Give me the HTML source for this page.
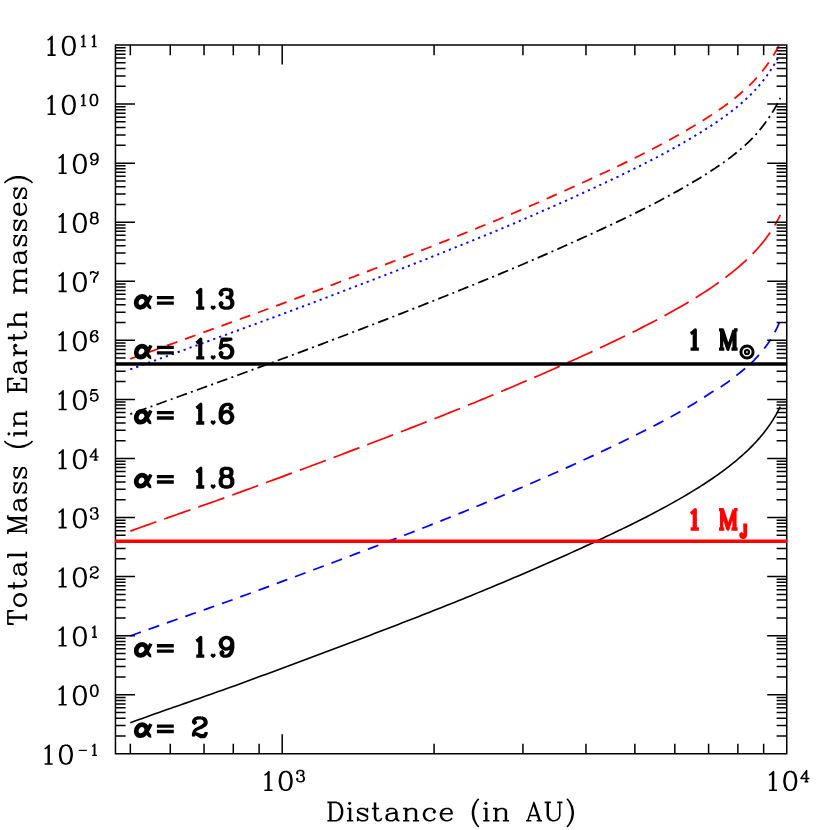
<!DOCTYPE html>
<html><head><meta charset="utf-8"><title>Total Mass vs Distance</title>
<style>html,body{margin:0;padding:0;background:#fff;font-family:"Liberation Sans",sans-serif}svg{display:block}</style></head>
<body>
<svg width="830" height="830" viewBox="0 0 830 830">
<rect width="830" height="830" fill="#fff"/>
<defs><clipPath id="c"><rect x="115.45" y="45.0" width="671.30" height="708.80"/></clipPath></defs>
<g clip-path="url(#c)">
<path d="M130.30 358.92L134.30 357.46L138.30 356.01L142.30 354.55L146.30 353.10L150.30 351.65L154.30 350.20L158.30 348.75L162.30 347.30L166.30 345.85L170.30 344.40L174.30 342.95L178.30 341.51L182.30 340.06L186.30 338.61L190.30 337.17L194.30 335.72L198.30 334.27L202.30 332.83L206.30 331.38L210.30 329.93L214.30 328.48L218.30 327.03L222.30 325.58L226.30 324.13L230.30 322.67L234.30 321.22L238.30 319.76L242.30 318.30L246.30 316.84L250.30 315.38L254.30 313.92L258.30 312.45L262.30 310.98L266.30 309.51L270.30 308.04L274.30 306.56L278.30 305.08L282.30 303.60L286.30 302.11L290.30 300.62L294.30 299.13L298.30 297.64L302.30 296.14L306.30 294.63L310.30 293.13L314.30 291.63L318.30 290.12L322.30 288.61L326.30 287.10L330.30 285.58L334.30 284.07L338.30 282.55L342.30 281.03L346.30 279.51L350.30 277.98L354.30 276.46L358.30 274.93L362.30 273.40L366.30 271.86L370.30 270.33L374.30 268.79L378.30 267.24L382.30 265.70L386.30 264.15L390.30 262.60L394.30 261.05L398.30 259.50L402.30 257.94L406.30 256.38L410.30 254.81L414.30 253.25L418.30 251.68L422.30 250.10L426.30 248.52L430.30 246.94L434.30 245.36L438.30 243.77L442.30 242.18L446.30 240.59L450.30 238.99L454.30 237.39L458.30 235.78L462.30 234.17L466.30 232.55L470.30 230.93L474.30 229.31L478.30 227.68L482.30 226.05L486.30 224.41L490.30 222.77L494.30 221.12L498.30 219.47L502.30 217.81L506.30 216.14L510.30 214.46L514.30 212.77L518.30 211.07L522.30 209.36L526.30 207.65L530.30 205.92L534.30 204.18L538.30 202.44L542.30 200.69L546.30 198.93L550.30 197.16L554.30 195.39L558.30 193.61L562.30 191.82L566.30 190.02L570.30 188.22L574.30 186.41L578.30 184.59L582.30 182.77L586.30 180.94L590.30 179.11L594.30 177.26L598.30 175.42L602.30 173.56L606.30 171.69L610.30 169.82L614.30 167.92L618.30 166.02L622.30 164.10L626.30 162.16L630.30 160.21L634.30 158.24L638.30 156.25L642.30 154.24L646.30 152.21L650.30 150.16L654.30 148.09L658.30 145.99L662.30 143.87L666.30 141.72L670.30 139.54L674.30 137.33L678.30 135.08L682.30 132.80L686.30 130.48L690.30 128.12L694.30 125.72L698.30 123.29L700.00 122.25L701.50 121.32L703.00 120.39L704.50 119.45L706.00 118.50L707.50 117.55L709.00 116.58L710.50 115.61L712.00 114.63L713.50 113.64L715.00 112.64L716.50 111.63L718.00 110.61L719.50 109.58L721.00 108.53L722.50 107.48L724.00 106.41L725.50 105.32L727.00 104.22L728.50 103.10L730.00 101.97L731.50 100.82L733.00 99.66L734.50 98.47L736.00 97.26L737.50 96.04L739.00 94.79L740.50 93.51L742.00 92.21L743.50 90.89L745.00 89.54L746.50 88.16L748.00 86.75L749.50 85.31L751.00 83.83L752.50 82.31L754.00 80.74L755.50 79.13L757.00 77.47L758.50 75.76L760.00 74.00L760.50 73.40L761.00 72.79L761.50 72.18L762.00 71.56L762.50 70.94L763.00 70.31L763.50 69.67L764.00 69.03L764.50 68.38L765.00 67.72L765.50 67.06L766.00 66.39L766.50 65.71L767.00 65.02L767.50 64.32L768.00 63.62L768.50 62.91L769.00 62.19L769.50 61.46L770.00 60.72L770.50 59.97L771.00 59.21L771.50 58.44L772.00 57.66L772.50 56.87L773.00 56.07L773.50 55.26L774.00 54.44L774.50 53.60L775.00 52.75L775.50 51.89L776.00 51.01L776.50 50.12L777.00 49.21L777.50 48.29L778.00 47.35L778.50 46.39L779.00 45.42L779.50 44.42L780.00 43.41L780.30 42.79" fill="none" stroke="#f00" stroke-width="1.75" stroke-dasharray="11.2 8.2"/>
<path d="M130.30 369.42L134.30 367.96L138.30 366.51L142.30 365.05L146.30 363.60L150.30 362.15L154.30 360.70L158.30 359.25L162.30 357.80L166.30 356.35L170.30 354.90L174.30 353.45L178.30 352.01L182.30 350.56L186.30 349.11L190.30 347.67L194.30 346.22L198.30 344.77L202.30 343.33L206.30 341.88L210.30 340.43L214.30 338.98L218.30 337.53L222.30 336.08L226.30 334.63L230.30 333.17L234.30 331.72L238.30 330.26L242.30 328.80L246.30 327.34L250.30 325.88L254.30 324.42L258.30 322.95L262.30 321.48L266.30 320.01L270.30 318.54L274.30 317.06L278.30 315.58L282.30 314.10L286.30 312.61L290.30 311.12L294.30 309.63L298.30 308.14L302.30 306.64L306.30 305.13L310.30 303.63L314.30 302.13L318.30 300.62L322.30 299.11L326.30 297.60L330.30 296.08L334.30 294.57L338.30 293.05L342.30 291.53L346.30 290.01L350.30 288.48L354.30 286.96L358.30 285.43L362.30 283.90L366.30 282.36L370.30 280.83L374.30 279.29L378.30 277.74L382.30 276.20L386.30 274.65L390.30 273.10L394.30 271.55L398.30 270.00L402.30 268.44L406.30 266.88L410.30 265.31L414.30 263.75L418.30 262.18L422.30 260.60L426.30 259.02L430.30 257.44L434.30 255.86L438.30 254.27L442.30 252.68L446.30 251.09L450.30 249.49L454.30 247.89L458.30 246.28L462.30 244.67L466.30 243.05L470.30 241.43L474.30 239.81L478.30 238.18L482.30 236.55L486.30 234.91L490.30 233.27L494.30 231.62L498.30 229.97L502.30 228.31L506.30 226.64L510.30 224.96L514.30 223.27L518.30 221.57L522.30 219.86L526.30 218.15L530.30 216.42L534.30 214.68L538.30 212.94L542.30 211.19L546.30 209.43L550.30 207.66L554.30 205.89L558.30 204.11L562.30 202.32L566.30 200.52L570.30 198.72L574.30 196.91L578.30 195.09L582.30 193.27L586.30 191.44L590.30 189.61L594.30 187.76L598.30 185.92L602.30 184.06L606.30 182.19L610.30 180.32L614.30 178.42L618.30 176.52L622.30 174.60L626.30 172.66L630.30 170.71L634.30 168.74L638.30 166.75L642.30 164.74L646.30 162.71L650.30 160.66L654.30 158.59L658.30 156.49L662.30 154.37L666.30 152.22L670.30 150.04L674.30 147.83L678.30 145.58L682.30 143.30L686.30 140.98L690.30 138.62L694.30 136.22L698.30 133.79L700.00 132.75L701.50 131.82L703.00 130.89L704.50 129.95L706.00 129.00L707.50 128.05L709.00 127.08L710.50 126.11L712.00 125.13L713.50 124.14L715.00 123.14L716.50 122.13L718.00 121.11L719.50 120.08L721.00 119.03L722.50 117.98L724.00 116.91L725.50 115.82L727.00 114.72L728.50 113.60L730.00 112.47L731.50 111.32L733.00 110.16L734.50 108.97L736.00 107.76L737.50 106.54L739.00 105.29L740.50 104.01L742.00 102.71L743.50 101.39L745.00 100.04L746.50 98.66L748.00 97.25L749.50 95.81L751.00 94.33L752.50 92.81L754.00 91.24L755.50 89.63L757.00 87.97L758.50 86.26L760.00 84.50L760.50 83.90L761.00 83.29L761.50 82.68L762.00 82.06L762.50 81.44L763.00 80.81L763.50 80.17L764.00 79.53L764.50 78.88L765.00 78.22L765.50 77.56L766.00 76.89L766.50 76.21L767.00 75.52L767.50 74.82L768.00 74.12L768.50 73.41L769.00 72.69L769.50 71.96L770.00 71.22L770.50 70.47L771.00 69.71L771.50 68.94L772.00 68.16L772.50 67.37L773.00 66.57L773.50 65.76L774.00 64.94L774.50 64.10L775.00 63.25L775.50 62.39L776.00 61.51L776.50 60.62L777.00 59.71L777.50 58.79L778.00 57.85L778.50 56.89L779.00 55.92L779.50 54.92L780.00 53.91L780.30 53.29" fill="none" stroke="#00f" stroke-width="1.9" stroke-dasharray="2.2 4.1"/>
<path d="M130.30 414.12L134.30 412.66L138.30 411.21L142.30 409.75L146.30 408.30L150.30 406.85L154.30 405.40L158.30 403.95L162.30 402.50L166.30 401.05L170.30 399.60L174.30 398.15L178.30 396.71L182.30 395.26L186.30 393.81L190.30 392.37L194.30 390.92L198.30 389.47L202.30 388.03L206.30 386.58L210.30 385.13L214.30 383.68L218.30 382.23L222.30 380.78L226.30 379.33L230.30 377.87L234.30 376.42L238.30 374.96L242.30 373.50L246.30 372.04L250.30 370.58L254.30 369.12L258.30 367.65L262.30 366.18L266.30 364.71L270.30 363.24L274.30 361.76L278.30 360.28L282.30 358.80L286.30 357.31L290.30 355.82L294.30 354.33L298.30 352.84L302.30 351.34L306.30 349.83L310.30 348.33L314.30 346.82L318.30 345.32L322.30 343.81L326.30 342.29L330.30 340.78L334.30 339.26L338.30 337.74L342.30 336.22L346.30 334.70L350.30 333.17L354.30 331.64L358.30 330.11L362.30 328.58L366.30 327.04L370.30 325.50L374.30 323.96L378.30 322.42L382.30 320.87L386.30 319.32L390.30 317.77L394.30 316.21L398.30 314.65L402.30 313.09L406.30 311.53L410.30 309.96L414.30 308.39L418.30 306.82L422.30 305.24L426.30 303.66L430.30 302.08L434.30 300.49L438.30 298.90L442.30 297.31L446.30 295.71L450.30 294.11L454.30 292.51L458.30 290.90L462.30 289.28L466.30 287.67L470.30 286.05L474.30 284.42L478.30 282.79L482.30 281.16L486.30 279.52L490.30 277.87L494.30 276.22L498.30 274.57L502.30 272.91L506.30 271.24L510.30 269.57L514.30 267.88L518.30 266.19L522.30 264.49L526.30 262.78L530.30 261.06L534.30 259.34L538.30 257.60L542.30 255.86L546.30 254.12L550.30 252.36L554.30 250.60L558.30 248.83L562.30 247.05L566.30 245.27L570.30 243.47L574.30 241.67L578.30 239.87L582.30 238.05L586.30 236.23L590.30 234.40L594.30 232.56L598.30 230.72L602.30 228.86L606.30 227.00L610.30 225.12L614.30 223.24L618.30 221.34L622.30 219.42L626.30 217.50L630.30 215.56L634.30 213.60L638.30 211.62L642.30 209.63L646.30 207.62L650.30 205.58L654.30 203.53L658.30 201.45L662.30 199.34L666.30 197.21L670.30 195.05L674.30 192.85L678.30 190.63L682.30 188.36L686.30 186.06L690.30 183.72L694.30 181.34L698.30 178.93L700.00 177.89L701.50 176.97L703.00 176.05L704.50 175.11L706.00 174.17L707.50 173.23L709.00 172.27L710.50 171.31L712.00 170.33L713.50 169.35L715.00 168.36L716.50 167.35L718.00 166.34L719.50 165.31L721.00 164.27L722.50 163.22L724.00 162.15L725.50 161.07L727.00 159.98L728.50 158.87L730.00 157.74L731.50 156.60L733.00 155.43L734.50 154.25L736.00 153.05L737.50 151.82L739.00 150.58L740.50 149.30L742.00 148.01L743.50 146.69L745.00 145.34L746.50 143.96L748.00 142.55L749.50 141.11L751.00 139.63L752.50 138.10L754.00 136.51L755.50 134.88L757.00 133.19L758.50 131.44L760.00 129.64L760.50 129.03L761.00 128.41L761.50 127.79L762.00 127.16L762.50 126.52L763.00 125.87L763.50 125.22L764.00 124.56L764.50 123.90L765.00 123.23L765.50 122.55L766.00 121.86L766.50 121.17L767.00 120.46L767.50 119.75L768.00 119.03L768.50 118.31L769.00 117.57L769.50 116.83L770.00 116.08L770.50 115.32L771.00 114.54L771.50 113.76L772.00 112.97L772.50 112.17L773.00 111.36L773.50 110.54L774.00 109.70L774.50 108.86L775.00 108.00L775.50 107.13L776.00 106.24L776.50 105.35L777.00 104.43L777.50 103.50L778.00 102.56L778.50 101.60L779.00 100.62L779.50 99.63L780.00 98.61L780.30 97.99" fill="none" stroke="#000" stroke-width="1.75" stroke-dasharray="2 4.3 10.9 4.3"/>
<path d="M130.30 531.12L134.30 529.67L138.30 528.22L142.30 526.78L146.30 525.35L150.30 523.93L154.30 522.51L158.30 521.09L162.30 519.68L166.30 518.27L170.30 516.87L174.30 515.47L178.30 514.07L182.30 512.67L186.30 511.27L190.30 509.87L194.30 508.47L198.30 507.07L202.30 505.67L206.30 504.26L210.30 502.85L214.30 501.44L218.30 500.02L222.30 498.60L226.30 497.17L230.30 495.73L234.30 494.29L238.30 492.84L242.30 491.38L246.30 489.91L250.30 488.44L254.30 486.97L258.30 485.50L262.30 484.02L266.30 482.55L270.30 481.07L274.30 479.59L278.30 478.11L282.30 476.62L286.30 475.14L290.30 473.65L294.30 472.17L298.30 470.68L302.30 469.19L306.30 467.70L310.30 466.20L314.30 464.71L318.30 463.21L322.30 461.71L326.30 460.21L330.30 458.70L334.30 457.20L338.30 455.69L342.30 454.18L346.30 452.67L350.30 451.15L354.30 449.64L358.30 448.12L362.30 446.60L366.30 445.08L370.30 443.55L374.30 442.02L378.30 440.49L382.30 438.96L386.30 437.42L390.30 435.88L394.30 434.34L398.30 432.80L402.30 431.25L406.30 429.70L410.30 428.15L414.30 426.59L418.30 425.03L422.30 423.47L426.30 421.90L430.30 420.33L434.30 418.76L438.30 417.17L442.30 415.59L446.30 413.99L450.30 412.40L454.30 410.79L458.30 409.18L462.30 407.56L466.30 405.94L470.30 404.31L474.30 402.68L478.30 401.03L482.30 399.39L486.30 397.74L490.30 396.08L494.30 394.41L498.30 392.74L502.30 391.06L506.30 389.38L510.30 387.69L514.30 385.99L518.30 384.29L522.30 382.58L526.30 380.87L530.30 379.14L534.30 377.41L538.30 375.68L542.30 373.94L546.30 372.19L550.30 370.43L554.30 368.66L558.30 366.89L562.30 365.11L566.30 363.32L570.30 361.53L574.30 359.72L578.30 357.91L582.30 356.09L586.30 354.25L590.30 352.41L594.30 350.56L598.30 348.70L602.30 346.82L606.30 344.94L610.30 343.04L614.30 341.14L618.30 339.21L622.30 337.28L626.30 335.33L630.30 333.37L634.30 331.39L638.30 329.39L642.30 327.37L646.30 325.32L650.30 323.26L654.30 321.17L658.30 319.06L662.30 316.91L666.30 314.74L670.30 312.54L674.30 310.31L678.30 308.05L682.30 305.74L686.30 303.40L690.30 301.01L694.30 298.58L698.30 296.10L700.00 295.03L701.50 294.08L703.00 293.12L704.50 292.15L706.00 291.17L707.50 290.18L709.00 289.18L710.50 288.18L712.00 287.16L713.50 286.13L715.00 285.09L716.50 284.04L718.00 282.98L719.50 281.91L721.00 280.82L722.50 279.72L724.00 278.61L725.50 277.49L727.00 276.34L728.50 275.19L730.00 274.02L731.50 272.83L733.00 271.63L734.50 270.41L736.00 269.17L737.50 267.91L739.00 266.63L740.50 265.33L742.00 264.01L743.50 262.66L745.00 261.29L746.50 259.89L748.00 258.47L749.50 257.01L751.00 255.53L752.50 254.00L754.00 252.45L755.50 250.85L757.00 249.21L758.50 247.53L760.00 245.80L760.50 245.21L761.00 244.62L761.50 244.02L762.00 243.41L762.50 242.80L763.00 242.18L763.50 241.56L764.00 240.93L764.50 240.29L765.00 239.65L765.50 238.99L766.00 238.34L766.50 237.67L767.00 236.99L767.50 236.31L768.00 235.62L768.50 234.92L769.00 234.21L769.50 233.50L770.00 232.77L770.50 232.03L771.00 231.29L771.50 230.53L772.00 229.76L772.50 228.98L773.00 228.19L773.50 227.39L774.00 226.57L774.50 225.75L775.00 224.91L775.50 224.05L776.00 223.18L776.50 222.30L777.00 221.39L777.50 220.48L778.00 219.54L778.50 218.59L779.00 217.62L779.50 216.62L780.00 215.61L780.30 214.99" fill="none" stroke="#f00" stroke-width="1.7" stroke-dasharray="27.7 8.33"/>
<path d="M130.30 635.92L134.30 634.47L138.30 633.02L142.30 631.58L146.30 630.15L150.30 628.73L154.30 627.31L158.30 625.89L162.30 624.48L166.30 623.07L170.30 621.67L174.30 620.27L178.30 618.87L182.30 617.47L186.30 616.07L190.30 614.67L194.30 613.27L198.30 611.87L202.30 610.47L206.30 609.06L210.30 607.65L214.30 606.24L218.30 604.82L222.30 603.40L226.30 601.97L230.30 600.53L234.30 599.09L238.30 597.64L242.30 596.18L246.30 594.71L250.30 593.24L254.30 591.77L258.30 590.30L262.30 588.82L266.30 587.35L270.30 585.87L274.30 584.39L278.30 582.91L282.30 581.42L286.30 579.94L290.30 578.45L294.30 576.97L298.30 575.48L302.30 573.99L306.30 572.50L310.30 571.00L314.30 569.51L318.30 568.01L322.30 566.51L326.30 565.01L330.30 563.50L334.30 562.00L338.30 560.49L342.30 558.98L346.30 557.47L350.30 555.95L354.30 554.44L358.30 552.92L362.30 551.40L366.30 549.88L370.30 548.35L374.30 546.82L378.30 545.29L382.30 543.76L386.30 542.22L390.30 540.68L394.30 539.14L398.30 537.60L402.30 536.05L406.30 534.50L410.30 532.95L414.30 531.39L418.30 529.83L422.30 528.27L426.30 526.70L430.30 525.13L434.30 523.55L438.30 521.97L442.30 520.38L446.30 518.78L450.30 517.18L454.30 515.57L458.30 513.95L462.30 512.32L466.30 510.69L470.30 509.05L474.30 507.41L478.30 505.75L482.30 504.10L486.30 502.43L490.30 500.76L494.30 499.09L498.30 497.40L502.30 495.71L506.30 494.02L510.30 492.32L514.30 490.61L518.30 488.90L522.30 487.18L526.30 485.46L530.30 483.73L534.30 481.99L538.30 480.25L542.30 478.50L546.30 476.75L550.30 474.99L554.30 473.22L558.30 471.45L562.30 469.67L566.30 467.88L570.30 466.08L574.30 464.27L578.30 462.45L582.30 460.61L586.30 458.77L590.30 456.91L594.30 455.05L598.30 453.17L602.30 451.28L606.30 449.39L610.30 447.48L614.30 445.56L618.30 443.63L622.30 441.69L626.30 439.73L630.30 437.77L634.30 435.79L638.30 433.80L642.30 431.80L646.30 429.79L650.30 427.75L654.30 425.70L658.30 423.62L662.30 421.52L666.30 419.38L670.30 417.22L674.30 415.02L678.30 412.79L682.30 410.51L686.30 408.18L690.30 405.81L694.30 403.38L698.30 400.90L700.00 399.83L701.50 398.88L703.00 397.92L704.50 396.95L706.00 395.97L707.50 394.99L709.00 393.99L710.50 393.02L712.00 392.08L713.50 391.18L715.00 390.29L716.50 389.42L718.00 388.54L719.50 387.65L721.00 386.74L722.50 385.80L724.00 384.81L725.50 383.77L727.00 382.70L728.50 381.61L730.00 380.49L731.50 379.36L733.00 378.20L734.50 377.03L736.00 375.84L737.50 374.64L739.00 373.42L740.50 372.20L742.00 370.97L743.50 369.73L745.00 368.49L746.50 367.22L748.00 365.92L749.50 364.59L751.00 363.21L752.50 361.77L754.00 360.27L755.50 358.70L757.00 357.07L758.50 355.40L760.00 353.68L760.50 353.10L761.00 352.51L761.50 351.91L762.00 351.31L762.50 350.70L763.00 350.08L763.50 349.46L764.00 348.83L764.50 348.19L765.00 347.55L765.50 346.89L766.00 346.23L766.50 345.57L767.00 344.89L767.50 344.20L768.00 343.49L768.50 342.77L769.00 342.03L769.50 341.27L770.00 340.49L770.50 339.70L771.00 338.89L771.50 338.06L772.00 337.22L772.50 336.36L773.00 335.49L773.50 334.59L774.00 333.69L774.50 332.76L775.00 331.82L775.50 330.86L776.00 329.89L776.50 328.90L777.00 327.89L777.50 326.82L778.00 325.69L778.50 324.51L779.00 323.32L779.50 322.15L780.00 321.03L780.30 320.39" fill="none" stroke="#00f" stroke-width="1.75" stroke-dasharray="11.25 8.2"/>
<path d="M130.30 722.72L134.30 721.27L138.30 719.82L142.30 718.38L146.30 716.95L150.30 715.53L154.30 714.11L158.30 712.69L162.30 711.28L166.30 709.87L170.30 708.47L174.30 707.07L178.30 705.67L182.30 704.27L186.30 702.87L190.30 701.47L194.30 700.07L198.30 698.67L202.30 697.27L206.30 695.86L210.30 694.45L214.30 693.04L218.30 691.62L222.30 690.20L226.30 688.77L230.30 687.33L234.30 685.89L238.30 684.44L242.30 682.98L246.30 681.51L250.30 680.04L254.30 678.57L258.30 677.10L262.30 675.62L266.30 674.15L270.30 672.67L274.30 671.19L278.30 669.71L282.30 668.22L286.30 666.74L290.30 665.25L294.30 663.77L298.30 662.28L302.30 660.79L306.30 659.30L310.30 657.80L314.30 656.31L318.30 654.81L322.30 653.31L326.30 651.81L330.30 650.30L334.30 648.80L338.30 647.29L342.30 645.78L346.30 644.27L350.30 642.75L354.30 641.24L358.30 639.72L362.30 638.20L366.30 636.68L370.30 635.15L374.30 633.62L378.30 632.09L382.30 630.56L386.30 629.02L390.30 627.48L394.30 625.94L398.30 624.40L402.30 622.85L406.30 621.30L410.30 619.75L414.30 618.19L418.30 616.63L422.30 615.07L426.30 613.50L430.30 611.93L434.30 610.36L438.30 608.77L442.30 607.19L446.30 605.59L450.30 604.00L454.30 602.39L458.30 600.78L462.30 599.16L466.30 597.54L470.30 595.91L474.30 594.28L478.30 592.63L482.30 590.99L486.30 589.34L490.30 587.68L494.30 586.01L498.30 584.34L502.30 582.66L506.30 580.98L510.30 579.29L514.30 577.59L518.30 575.89L522.30 574.18L526.30 572.47L530.30 570.74L534.30 569.01L538.30 567.28L542.30 565.54L546.30 563.79L550.30 562.03L554.30 560.26L558.30 558.49L562.30 556.71L566.30 554.92L570.30 553.13L574.30 551.32L578.30 549.51L582.30 547.69L586.30 545.85L590.30 544.01L594.30 542.16L598.30 540.30L602.30 538.42L606.30 536.54L610.30 534.64L614.30 532.74L618.30 530.81L622.30 528.88L626.30 526.93L630.30 524.97L634.30 522.99L638.30 520.99L642.30 518.97L646.30 516.92L650.30 514.86L654.30 512.77L658.30 510.66L662.30 508.51L666.30 506.34L670.30 504.14L674.30 501.91L678.30 499.65L682.30 497.34L686.30 495.00L690.30 492.61L694.30 490.18L698.30 487.70L700.00 486.63L701.50 485.68L703.00 484.72L704.50 483.75L706.00 482.77L707.50 481.78L709.00 480.78L710.50 479.78L712.00 478.76L713.50 477.73L715.00 476.69L716.50 475.64L718.00 474.58L719.50 473.51L721.00 472.42L722.50 471.32L724.00 470.21L725.50 469.09L727.00 467.94L728.50 466.79L730.00 465.62L731.50 464.43L733.00 463.23L734.50 462.01L736.00 460.77L737.50 459.51L739.00 458.23L740.50 456.93L742.00 455.61L743.50 454.26L745.00 452.89L746.50 451.49L748.00 450.07L749.50 448.61L751.00 447.13L752.50 445.60L754.00 444.05L755.50 442.45L757.00 440.81L758.50 439.13L760.00 437.40L760.50 436.81L761.00 436.22L761.50 435.62L762.00 435.01L762.50 434.40L763.00 433.78L763.50 433.16L764.00 432.53L764.50 431.89L765.00 431.25L765.50 430.59L766.00 429.94L766.50 429.27L767.00 428.59L767.50 427.91L768.00 427.22L768.50 426.52L769.00 425.81L769.50 425.10L770.00 424.37L770.50 423.63L771.00 422.89L771.50 422.13L772.00 421.36L772.50 420.58L773.00 419.79L773.50 418.99L774.00 418.17L774.50 417.35L775.00 416.51L775.50 415.65L776.00 414.78L776.50 413.90L777.00 412.99L777.50 412.08L778.00 411.14L778.50 410.19L779.00 409.22L779.50 408.22L780.00 407.21L780.30 406.59" fill="none" stroke="#000" stroke-width="1.6"/>
</g>
<path d="M115.45 45.0H786.75V753.8H115.45ZM115.45 736.02h9.4M786.75 736.02h-9.4M115.45 725.62h9.4M786.75 725.62h-9.4M115.45 718.24h9.4M786.75 718.24h-9.4M115.45 712.51h9.4M786.75 712.51h-9.4M115.45 707.84h9.4M786.75 707.84h-9.4M115.45 703.88h9.4M786.75 703.88h-9.4M115.45 700.46h9.4M786.75 700.46h-9.4M115.45 697.44h9.4M786.75 697.44h-9.4M115.45 694.73h18.8M786.75 694.73h-18.8M115.45 676.95h9.4M786.75 676.95h-9.4M115.45 666.55h9.4M786.75 666.55h-9.4M115.45 659.17h9.4M786.75 659.17h-9.4M115.45 653.45h9.4M786.75 653.45h-9.4M115.45 648.77h9.4M786.75 648.77h-9.4M115.45 644.82h9.4M786.75 644.82h-9.4M115.45 641.39h9.4M786.75 641.39h-9.4M115.45 638.37h9.4M786.75 638.37h-9.4M115.45 635.67h18.8M786.75 635.67h-18.8M115.45 617.89h9.4M786.75 617.89h-9.4M115.45 607.48h9.4M786.75 607.48h-9.4M115.45 600.10h9.4M786.75 600.10h-9.4M115.45 594.38h9.4M786.75 594.38h-9.4M115.45 589.70h9.4M786.75 589.70h-9.4M115.45 585.75h9.4M786.75 585.75h-9.4M115.45 582.32h9.4M786.75 582.32h-9.4M115.45 579.30h9.4M786.75 579.30h-9.4M115.45 576.60h18.8M786.75 576.60h-18.8M115.45 558.82h9.4M786.75 558.82h-9.4M115.45 548.42h9.4M786.75 548.42h-9.4M115.45 541.04h9.4M786.75 541.04h-9.4M115.45 535.31h9.4M786.75 535.31h-9.4M115.45 530.64h9.4M786.75 530.64h-9.4M115.45 526.68h9.4M786.75 526.68h-9.4M115.45 523.26h9.4M786.75 523.26h-9.4M115.45 520.24h9.4M786.75 520.24h-9.4M115.45 517.53h18.8M786.75 517.53h-18.8M115.45 499.75h9.4M786.75 499.75h-9.4M115.45 489.35h9.4M786.75 489.35h-9.4M115.45 481.97h9.4M786.75 481.97h-9.4M115.45 476.25h9.4M786.75 476.25h-9.4M115.45 471.57h9.4M786.75 471.57h-9.4M115.45 467.62h9.4M786.75 467.62h-9.4M115.45 464.19h9.4M786.75 464.19h-9.4M115.45 461.17h9.4M786.75 461.17h-9.4M115.45 458.47h18.8M786.75 458.47h-18.8M115.45 440.69h9.4M786.75 440.69h-9.4M115.45 430.28h9.4M786.75 430.28h-9.4M115.45 422.90h9.4M786.75 422.90h-9.4M115.45 417.18h9.4M786.75 417.18h-9.4M115.45 412.50h9.4M786.75 412.50h-9.4M115.45 408.55h9.4M786.75 408.55h-9.4M115.45 405.12h9.4M786.75 405.12h-9.4M115.45 402.10h9.4M786.75 402.10h-9.4M115.45 399.40h18.8M786.75 399.40h-18.8M115.45 381.62h9.4M786.75 381.62h-9.4M115.45 371.22h9.4M786.75 371.22h-9.4M115.45 363.84h9.4M786.75 363.84h-9.4M115.45 358.11h9.4M786.75 358.11h-9.4M115.45 353.44h9.4M786.75 353.44h-9.4M115.45 349.48h9.4M786.75 349.48h-9.4M115.45 346.06h9.4M786.75 346.06h-9.4M115.45 343.04h9.4M786.75 343.04h-9.4M115.45 340.33h18.8M786.75 340.33h-18.8M115.45 322.55h9.4M786.75 322.55h-9.4M115.45 312.15h9.4M786.75 312.15h-9.4M115.45 304.77h9.4M786.75 304.77h-9.4M115.45 299.05h9.4M786.75 299.05h-9.4M115.45 294.37h9.4M786.75 294.37h-9.4M115.45 290.42h9.4M786.75 290.42h-9.4M115.45 286.99h9.4M786.75 286.99h-9.4M115.45 283.97h9.4M786.75 283.97h-9.4M115.45 281.27h18.8M786.75 281.27h-18.8M115.45 263.49h9.4M786.75 263.49h-9.4M115.45 253.08h9.4M786.75 253.08h-9.4M115.45 245.70h9.4M786.75 245.70h-9.4M115.45 239.98h9.4M786.75 239.98h-9.4M115.45 235.30h9.4M786.75 235.30h-9.4M115.45 231.35h9.4M786.75 231.35h-9.4M115.45 227.92h9.4M786.75 227.92h-9.4M115.45 224.90h9.4M786.75 224.90h-9.4M115.45 222.20h18.8M786.75 222.20h-18.8M115.45 204.42h9.4M786.75 204.42h-9.4M115.45 194.02h9.4M786.75 194.02h-9.4M115.45 186.64h9.4M786.75 186.64h-9.4M115.45 180.91h9.4M786.75 180.91h-9.4M115.45 176.24h9.4M786.75 176.24h-9.4M115.45 172.28h9.4M786.75 172.28h-9.4M115.45 168.86h9.4M786.75 168.86h-9.4M115.45 165.84h9.4M786.75 165.84h-9.4M115.45 163.13h18.8M786.75 163.13h-18.8M115.45 145.35h9.4M786.75 145.35h-9.4M115.45 134.95h9.4M786.75 134.95h-9.4M115.45 127.57h9.4M786.75 127.57h-9.4M115.45 121.85h9.4M786.75 121.85h-9.4M115.45 117.17h9.4M786.75 117.17h-9.4M115.45 113.22h9.4M786.75 113.22h-9.4M115.45 109.79h9.4M786.75 109.79h-9.4M115.45 106.77h9.4M786.75 106.77h-9.4M115.45 104.07h18.8M786.75 104.07h-18.8M115.45 86.29h9.4M786.75 86.29h-9.4M115.45 75.88h9.4M786.75 75.88h-9.4M115.45 68.50h9.4M786.75 68.50h-9.4M115.45 62.78h9.4M786.75 62.78h-9.4M115.45 58.10h9.4M786.75 58.10h-9.4M115.45 54.15h9.4M786.75 54.15h-9.4M115.45 50.72h9.4M786.75 50.72h-9.4M115.45 47.70h9.4M786.75 47.70h-9.4M130.32 45.0v9.4M130.32 753.8v-9.4M170.27 45.0v9.4M170.27 753.8v-9.4M204.04 45.0v9.4M204.04 753.8v-9.4M233.30 45.0v9.4M233.30 753.8v-9.4M259.11 45.0v9.4M259.11 753.8v-9.4M434.08 45.0v9.4M434.08 753.8v-9.4M522.93 45.0v9.4M522.93 753.8v-9.4M585.97 45.0v9.4M585.97 753.8v-9.4M634.87 45.0v9.4M634.87 753.8v-9.4M674.82 45.0v9.4M674.82 753.8v-9.4M708.59 45.0v9.4M708.59 753.8v-9.4M737.85 45.0v9.4M737.85 753.8v-9.4M763.66 45.0v9.4M763.66 753.8v-9.4M282.2 45.0v18.8M282.2 753.8v-18.8" fill="none" stroke="#000" stroke-width="1.5" stroke-linecap="square"/>
<path d="M114.95 364.0H787.15" stroke="#000" stroke-width="3.6" fill="none"/>
<path d="M114.95 541.3H787.15" stroke="#f00" stroke-width="3.6" fill="none"/>
<path d="M10 -20L10 0M6 -17L8 -18L11 -21L11 0M6 0L15 0" transform="translate(39.35 763.90) scale(0.89 0.89)" fill="none" stroke="#000" stroke-width="1.55" vector-effect="non-scaling-stroke" stroke-linejoin="round"/>
<path d="M9 -21L6 -20L4 -17L3 -12L3 -9L4 -4L6 -1L9 0L7 -1L6 -2L5 -4L4 -9L4 -12L5 -17L6 -19L7 -20L9 -21L11 -21L14 -20L16 -17L17 -12L17 -9L16 -4L14 -1L11 0L13 -1L14 -2L15 -4L16 -9L16 -12L15 -17L14 -19L13 -20L11 -21M9 0L11 0" transform="translate(57.00 763.90) scale(0.89 0.89)" fill="none" stroke="#000" stroke-width="1.55" vector-effect="non-scaling-stroke" stroke-linejoin="round"/>
<path d="M78.8 750.40H86.9" stroke="#000" stroke-width="1.2" fill="none"/>
<path d="M10 -20L10 0M6 -17L8 -18L11 -21L11 0M6 0L15 0" transform="translate(88.95 755.35) scale(0.534 0.534)" fill="none" stroke="#000" stroke-width="1.35" vector-effect="non-scaling-stroke" stroke-linejoin="round"/>
<path d="M10 -20L10 0M6 -17L8 -18L11 -21L11 0M6 0L15 0" transform="translate(53.31 704.83) scale(0.89 0.89)" fill="none" stroke="#000" stroke-width="1.55" vector-effect="non-scaling-stroke" stroke-linejoin="round"/>
<path d="M9 -21L6 -20L4 -17L3 -12L3 -9L4 -4L6 -1L9 0L7 -1L6 -2L5 -4L4 -9L4 -12L5 -17L6 -19L7 -20L9 -21L11 -21L14 -20L16 -17L17 -12L17 -9L16 -4L14 -1L11 0L13 -1L14 -2L15 -4L16 -9L16 -12L15 -17L14 -19L13 -20L11 -21M9 0L11 0" transform="translate(70.96 704.83) scale(0.89 0.89)" fill="none" stroke="#000" stroke-width="1.55" vector-effect="non-scaling-stroke" stroke-linejoin="round"/>
<path d="M9 -21L6 -20L4 -17L3 -12L3 -9L4 -4L6 -1L9 0L7 -1L6 -2L5 -4L4 -9L4 -12L5 -17L6 -19L7 -20L9 -21L11 -21L14 -20L16 -17L17 -12L17 -9L16 -4L14 -1L11 0L13 -1L14 -2L15 -4L16 -9L16 -12L15 -17L14 -19L13 -20L11 -21M9 0L11 0" transform="translate(88.96 696.28) scale(0.534 0.534)" fill="none" stroke="#000" stroke-width="1.35" vector-effect="non-scaling-stroke" stroke-linejoin="round"/>
<path d="M10 -20L10 0M6 -17L8 -18L11 -21L11 0M6 0L15 0" transform="translate(53.31 645.77) scale(0.89 0.89)" fill="none" stroke="#000" stroke-width="1.55" vector-effect="non-scaling-stroke" stroke-linejoin="round"/>
<path d="M9 -21L6 -20L4 -17L3 -12L3 -9L4 -4L6 -1L9 0L7 -1L6 -2L5 -4L4 -9L4 -12L5 -17L6 -19L7 -20L9 -21L11 -21L14 -20L16 -17L17 -12L17 -9L16 -4L14 -1L11 0L13 -1L14 -2L15 -4L16 -9L16 -12L15 -17L14 -19L13 -20L11 -21M9 0L11 0" transform="translate(70.96 645.77) scale(0.89 0.89)" fill="none" stroke="#000" stroke-width="1.55" vector-effect="non-scaling-stroke" stroke-linejoin="round"/>
<path d="M10 -20L10 0M6 -17L8 -18L11 -21L11 0M6 0L15 0" transform="translate(88.96 637.22) scale(0.534 0.534)" fill="none" stroke="#000" stroke-width="1.35" vector-effect="non-scaling-stroke" stroke-linejoin="round"/>
<path d="M10 -20L10 0M6 -17L8 -18L11 -21L11 0M6 0L15 0" transform="translate(53.31 586.70) scale(0.89 0.89)" fill="none" stroke="#000" stroke-width="1.55" vector-effect="non-scaling-stroke" stroke-linejoin="round"/>
<path d="M9 -21L6 -20L4 -17L3 -12L3 -9L4 -4L6 -1L9 0L7 -1L6 -2L5 -4L4 -9L4 -12L5 -17L6 -19L7 -20L9 -21L11 -21L14 -20L16 -17L17 -12L17 -9L16 -4L14 -1L11 0L13 -1L14 -2L15 -4L16 -9L16 -12L15 -17L14 -19L13 -20L11 -21M9 0L11 0" transform="translate(70.96 586.70) scale(0.89 0.89)" fill="none" stroke="#000" stroke-width="1.55" vector-effect="non-scaling-stroke" stroke-linejoin="round"/>
<path d="M12 -21L8 -21L5 -20L4 -19L3 -17L3 -16L4 -15L5 -16L4 -17M12 -21L15 -20L16 -19L17 -17L17 -15L16 -13L13 -11L8 -9M12 -21L14 -20L15 -19L16 -17L16 -15L15 -13L12 -11L6 -8L4 -6L3 -3L3 0M17 -5L17 -3L16 -1L15 0L11 0L6 -3L11 -1L14 -1L16 -2L17 -3M6 -3L4 -3L3 -2" transform="translate(88.96 578.15) scale(0.534 0.534)" fill="none" stroke="#000" stroke-width="1.35" vector-effect="non-scaling-stroke" stroke-linejoin="round"/>
<path d="M10 -20L10 0M6 -17L8 -18L11 -21L11 0M6 0L15 0" transform="translate(53.31 527.63) scale(0.89 0.89)" fill="none" stroke="#000" stroke-width="1.55" vector-effect="non-scaling-stroke" stroke-linejoin="round"/>
<path d="M9 -21L6 -20L4 -17L3 -12L3 -9L4 -4L6 -1L9 0L7 -1L6 -2L5 -4L4 -9L4 -12L5 -17L6 -19L7 -20L9 -21L11 -21L14 -20L16 -17L17 -12L17 -9L16 -4L14 -1L11 0L13 -1L14 -2L15 -4L16 -9L16 -12L15 -17L14 -19L13 -20L11 -21M9 0L11 0" transform="translate(70.96 527.63) scale(0.89 0.89)" fill="none" stroke="#000" stroke-width="1.55" vector-effect="non-scaling-stroke" stroke-linejoin="round"/>
<path d="M12 -21L8 -21L5 -20L4 -19L3 -17L3 -16L4 -15L5 -16L4 -17M12 -21L15 -20L16 -18L16 -15L15 -13L12 -12L9 -12M12 -21L14 -20L15 -18L15 -15L14 -13L12 -12L14 -11L16 -9L17 -7L17 -4L16 -2L15 -1L12 0L8 0L5 -1L4 -2L3 -4L3 -5L4 -6L5 -5L4 -4M15 -10L16 -7L16 -4L15 -2L14 -1L12 0" transform="translate(88.96 519.08) scale(0.534 0.534)" fill="none" stroke="#000" stroke-width="1.35" vector-effect="non-scaling-stroke" stroke-linejoin="round"/>
<path d="M10 -20L10 0M6 -17L8 -18L11 -21L11 0M6 0L15 0" transform="translate(53.31 468.57) scale(0.89 0.89)" fill="none" stroke="#000" stroke-width="1.55" vector-effect="non-scaling-stroke" stroke-linejoin="round"/>
<path d="M9 -21L6 -20L4 -17L3 -12L3 -9L4 -4L6 -1L9 0L7 -1L6 -2L5 -4L4 -9L4 -12L5 -17L6 -19L7 -20L9 -21L11 -21L14 -20L16 -17L17 -12L17 -9L16 -4L14 -1L11 0L13 -1L14 -2L15 -4L16 -9L16 -12L15 -17L14 -19L13 -20L11 -21M9 0L11 0" transform="translate(70.96 468.57) scale(0.89 0.89)" fill="none" stroke="#000" stroke-width="1.55" vector-effect="non-scaling-stroke" stroke-linejoin="round"/>
<path d="M12 -19L12 0M10 -17L2 -6L13 -21L13 0M10 -17L5 -10L13 -21L10 -17M8 -14L7 -13M5 -10L2 -6L18 -6M9 0L16 0" transform="translate(88.96 460.02) scale(0.534 0.534)" fill="none" stroke="#000" stroke-width="1.35" vector-effect="non-scaling-stroke" stroke-linejoin="round"/>
<path d="M10 -20L10 0M6 -17L8 -18L11 -21L11 0M6 0L15 0" transform="translate(53.31 409.50) scale(0.89 0.89)" fill="none" stroke="#000" stroke-width="1.55" vector-effect="non-scaling-stroke" stroke-linejoin="round"/>
<path d="M9 -21L6 -20L4 -17L3 -12L3 -9L4 -4L6 -1L9 0L7 -1L6 -2L5 -4L4 -9L4 -12L5 -17L6 -19L7 -20L9 -21L11 -21L14 -20L16 -17L17 -12L17 -9L16 -4L14 -1L11 0L13 -1L14 -2L15 -4L16 -9L16 -12L15 -17L14 -19L13 -20L11 -21M9 0L11 0" transform="translate(70.96 409.50) scale(0.89 0.89)" fill="none" stroke="#000" stroke-width="1.55" vector-effect="non-scaling-stroke" stroke-linejoin="round"/>
<path d="M5 -20L10 -20L15 -21L5 -21L3 -11L5 -13L8 -14L11 -14L14 -13L16 -11L17 -8L17 -6L16 -3L14 -1L11 0L8 0L5 -1L4 -2L3 -4L3 -5L4 -6L5 -5L4 -4M11 -14L13 -13L15 -11L16 -8L16 -6L15 -3L13 -1L11 0" transform="translate(88.96 400.95) scale(0.534 0.534)" fill="none" stroke="#000" stroke-width="1.35" vector-effect="non-scaling-stroke" stroke-linejoin="round"/>
<path d="M10 -20L10 0M6 -17L8 -18L11 -21L11 0M6 0L15 0" transform="translate(53.31 350.43) scale(0.89 0.89)" fill="none" stroke="#000" stroke-width="1.55" vector-effect="non-scaling-stroke" stroke-linejoin="round"/>
<path d="M9 -21L6 -20L4 -17L3 -12L3 -9L4 -4L6 -1L9 0L7 -1L6 -2L5 -4L4 -9L4 -12L5 -17L6 -19L7 -20L9 -21L11 -21L14 -20L16 -17L17 -12L17 -9L16 -4L14 -1L11 0L13 -1L14 -2L15 -4L16 -9L16 -12L15 -17L14 -19L13 -20L11 -21M9 0L11 0" transform="translate(70.96 350.43) scale(0.89 0.89)" fill="none" stroke="#000" stroke-width="1.55" vector-effect="non-scaling-stroke" stroke-linejoin="round"/>
<path d="M10 -21L7 -20L5 -18L4 -16L3 -12L3 -6L4 -3L6 -1L9 0L7 -1L5 -3L4 -6L4 -12L5 -16L6 -18L8 -20L10 -21L13 -21L15 -20L16 -18L16 -17L15 -16L14 -17L15 -18M11 -13L14 -12L16 -10L17 -7L17 -6L16 -3L14 -1L11 0L13 -1L15 -3L16 -6L16 -7L15 -10L13 -12L11 -13L10 -13L7 -12L5 -10L4 -7M9 0L11 0" transform="translate(88.96 341.88) scale(0.534 0.534)" fill="none" stroke="#000" stroke-width="1.35" vector-effect="non-scaling-stroke" stroke-linejoin="round"/>
<path d="M10 -20L10 0M6 -17L8 -18L11 -21L11 0M6 0L15 0" transform="translate(53.31 291.37) scale(0.89 0.89)" fill="none" stroke="#000" stroke-width="1.55" vector-effect="non-scaling-stroke" stroke-linejoin="round"/>
<path d="M9 -21L6 -20L4 -17L3 -12L3 -9L4 -4L6 -1L9 0L7 -1L6 -2L5 -4L4 -9L4 -12L5 -17L6 -19L7 -20L9 -21L11 -21L14 -20L16 -17L17 -12L17 -9L16 -4L14 -1L11 0L13 -1L14 -2L15 -4L16 -9L16 -12L15 -17L14 -19L13 -20L11 -21M9 0L11 0" transform="translate(70.96 291.37) scale(0.89 0.89)" fill="none" stroke="#000" stroke-width="1.55" vector-effect="non-scaling-stroke" stroke-linejoin="round"/>
<path d="M3 -21L3 -15M4 -19L6 -21L8 -21L13 -18L8 -20L6 -20L4 -19L3 -17M13 -18L15 -18L16 -19L17 -21L17 -18L16 -15L11 -10L10 -8L9 -5L9 0M16 -15L12 -10L11 -8L10 -5L10 0" transform="translate(88.96 282.82) scale(0.534 0.534)" fill="none" stroke="#000" stroke-width="1.35" vector-effect="non-scaling-stroke" stroke-linejoin="round"/>
<path d="M10 -20L10 0M6 -17L8 -18L11 -21L11 0M6 0L15 0" transform="translate(53.31 232.30) scale(0.89 0.89)" fill="none" stroke="#000" stroke-width="1.55" vector-effect="non-scaling-stroke" stroke-linejoin="round"/>
<path d="M9 -21L6 -20L4 -17L3 -12L3 -9L4 -4L6 -1L9 0L7 -1L6 -2L5 -4L4 -9L4 -12L5 -17L6 -19L7 -20L9 -21L11 -21L14 -20L16 -17L17 -12L17 -9L16 -4L14 -1L11 0L13 -1L14 -2L15 -4L16 -9L16 -12L15 -17L14 -19L13 -20L11 -21M9 0L11 0" transform="translate(70.96 232.30) scale(0.89 0.89)" fill="none" stroke="#000" stroke-width="1.55" vector-effect="non-scaling-stroke" stroke-linejoin="round"/>
<path d="M8 -21L12 -21L15 -20L16 -18L16 -15L15 -13L12 -12L8 -12L5 -13L4 -15L4 -18L5 -20L8 -21L6 -20L5 -18L5 -15L6 -13L8 -12L5 -11L4 -10L3 -8L3 -4L4 -2L5 -1L8 0L12 0L15 -1L16 -2L17 -4L17 -8L16 -10L15 -11L12 -12L14 -13L15 -15L15 -18L14 -20L12 -21M8 -12L6 -11L5 -10L4 -8L4 -4L5 -2L6 -1L8 0M12 -12L14 -11L15 -10L16 -8L16 -4L15 -2L14 -1L12 0" transform="translate(88.96 223.75) scale(0.534 0.534)" fill="none" stroke="#000" stroke-width="1.35" vector-effect="non-scaling-stroke" stroke-linejoin="round"/>
<path d="M10 -20L10 0M6 -17L8 -18L11 -21L11 0M6 0L15 0" transform="translate(53.31 173.23) scale(0.89 0.89)" fill="none" stroke="#000" stroke-width="1.55" vector-effect="non-scaling-stroke" stroke-linejoin="round"/>
<path d="M9 -21L6 -20L4 -17L3 -12L3 -9L4 -4L6 -1L9 0L7 -1L6 -2L5 -4L4 -9L4 -12L5 -17L6 -19L7 -20L9 -21L11 -21L14 -20L16 -17L17 -12L17 -9L16 -4L14 -1L11 0L13 -1L14 -2L15 -4L16 -9L16 -12L15 -17L14 -19L13 -20L11 -21M9 0L11 0" transform="translate(70.96 173.23) scale(0.89 0.89)" fill="none" stroke="#000" stroke-width="1.55" vector-effect="non-scaling-stroke" stroke-linejoin="round"/>
<path d="M9 -21L6 -20L4 -18L3 -15L3 -14L4 -11L6 -9L9 -8L7 -9L5 -11L4 -14L4 -15L5 -18L7 -20L9 -21L11 -21L14 -20L16 -18L17 -15L17 -9L16 -5L15 -3L13 -1L10 0L7 0L5 -1L4 -3L4 -4L5 -5L6 -4L5 -3M11 -21L13 -20L15 -18L16 -15L16 -9L15 -5L14 -3L12 -1L10 0M16 -14L15 -11L13 -9L10 -8L9 -8" transform="translate(88.96 164.68) scale(0.534 0.534)" fill="none" stroke="#000" stroke-width="1.35" vector-effect="non-scaling-stroke" stroke-linejoin="round"/>
<path d="M10 -20L10 0M6 -17L8 -18L11 -21L11 0M6 0L15 0" transform="translate(42.27 114.17) scale(0.89 0.89)" fill="none" stroke="#000" stroke-width="1.55" vector-effect="non-scaling-stroke" stroke-linejoin="round"/>
<path d="M9 -21L6 -20L4 -17L3 -12L3 -9L4 -4L6 -1L9 0L7 -1L6 -2L5 -4L4 -9L4 -12L5 -17L6 -19L7 -20L9 -21L11 -21L14 -20L16 -17L17 -12L17 -9L16 -4L14 -1L11 0L13 -1L14 -2L15 -4L16 -9L16 -12L15 -17L14 -19L13 -20L11 -21M9 0L11 0" transform="translate(59.92 114.17) scale(0.89 0.89)" fill="none" stroke="#000" stroke-width="1.55" vector-effect="non-scaling-stroke" stroke-linejoin="round"/>
<path d="M29 -21L26 -20L24 -17L23 -12L23 -9L24 -4L26 -1L29 0L27 -1L26 -2L25 -4L24 -9L24 -12L25 -17L26 -19L27 -20L29 -21L31 -21L34 -20L36 -17L37 -12L37 -9L36 -4L34 -1L31 0L33 -1L34 -2L35 -4L36 -9L36 -12L35 -17L34 -19L33 -20L31 -21M10 -20L10 0M6 -17L8 -18L11 -21L11 0M6 0L15 0M29 0L31 0" transform="translate(77.92 105.62) scale(0.534 0.534)" fill="none" stroke="#000" stroke-width="1.35" vector-effect="non-scaling-stroke" stroke-linejoin="round"/>
<path d="M10 -20L10 0M6 -17L8 -18L11 -21L11 0M6 0L15 0" transform="translate(42.27 55.10) scale(0.89 0.89)" fill="none" stroke="#000" stroke-width="1.55" vector-effect="non-scaling-stroke" stroke-linejoin="round"/>
<path d="M9 -21L6 -20L4 -17L3 -12L3 -9L4 -4L6 -1L9 0L7 -1L6 -2L5 -4L4 -9L4 -12L5 -17L6 -19L7 -20L9 -21L11 -21L14 -20L16 -17L17 -12L17 -9L16 -4L14 -1L11 0L13 -1L14 -2L15 -4L16 -9L16 -12L15 -17L14 -19L13 -20L11 -21M9 0L11 0" transform="translate(59.92 55.10) scale(0.89 0.89)" fill="none" stroke="#000" stroke-width="1.55" vector-effect="non-scaling-stroke" stroke-linejoin="round"/>
<path d="M10 -20L10 0M30 -20L30 0M6 -17L8 -18L11 -21L11 0M26 -17L28 -18L31 -21L31 0M6 0L15 0M26 0L35 0" transform="translate(77.92 46.55) scale(0.534 0.534)" fill="none" stroke="#000" stroke-width="1.35" vector-effect="non-scaling-stroke" stroke-linejoin="round"/>
<path d="M10 -20L10 0M6 -17L8 -18L11 -21L11 0M6 0L15 0" transform="translate(259.15 790.25) scale(0.89 0.89)" fill="none" stroke="#000" stroke-width="1.55" vector-effect="non-scaling-stroke" stroke-linejoin="round"/>
<path d="M9 -21L6 -20L4 -17L3 -12L3 -9L4 -4L6 -1L9 0L7 -1L6 -2L5 -4L4 -9L4 -12L5 -17L6 -19L7 -20L9 -21L11 -21L14 -20L16 -17L17 -12L17 -9L16 -4L14 -1L11 0L13 -1L14 -2L15 -4L16 -9L16 -12L15 -17L14 -19L13 -20L11 -21M9 0L11 0" transform="translate(276.80 790.25) scale(0.89 0.89)" fill="none" stroke="#000" stroke-width="1.55" vector-effect="non-scaling-stroke" stroke-linejoin="round"/>
<path d="M12 -21L8 -21L5 -20L4 -19L3 -17L3 -16L4 -15L5 -16L4 -17M12 -21L15 -20L16 -18L16 -15L15 -13L12 -12L9 -12M12 -21L14 -20L15 -18L15 -15L14 -13L12 -12L14 -11L16 -9L17 -7L17 -4L16 -2L15 -1L12 0L8 0L5 -1L4 -2L3 -4L3 -5L4 -6L5 -5L4 -4M15 -10L16 -7L16 -4L15 -2L14 -1L12 0" transform="translate(295.20 781.70) scale(0.534 0.534)" fill="none" stroke="#000" stroke-width="1.35" vector-effect="non-scaling-stroke" stroke-linejoin="round"/>
<path d="M10 -20L10 0M6 -17L8 -18L11 -21L11 0M6 0L15 0" transform="translate(763.70 790.25) scale(0.89 0.89)" fill="none" stroke="#000" stroke-width="1.55" vector-effect="non-scaling-stroke" stroke-linejoin="round"/>
<path d="M9 -21L6 -20L4 -17L3 -12L3 -9L4 -4L6 -1L9 0L7 -1L6 -2L5 -4L4 -9L4 -12L5 -17L6 -19L7 -20L9 -21L11 -21L14 -20L16 -17L17 -12L17 -9L16 -4L14 -1L11 0L13 -1L14 -2L15 -4L16 -9L16 -12L15 -17L14 -19L13 -20L11 -21M9 0L11 0" transform="translate(781.35 790.25) scale(0.89 0.89)" fill="none" stroke="#000" stroke-width="1.55" vector-effect="non-scaling-stroke" stroke-linejoin="round"/>
<path d="M12 -19L12 0M10 -17L2 -6L13 -21L13 0M10 -17L5 -10L13 -21L10 -17M8 -14L7 -13M5 -10L2 -6L18 -6M9 0L16 0" transform="translate(799.75 781.70) scale(0.534 0.534)" fill="none" stroke="#000" stroke-width="1.35" vector-effect="non-scaling-stroke" stroke-linejoin="round"/>
<path d="M172 -25L170 -23L168 -19L167 -16L166 -11L166 -7L167 -2L168 1L170 5L168 2L166 -2L165 -7L165 -11L166 -16L168 -20L170 -23M271 -25L273 -23L275 -19L276 -16L277 -11L277 -7L276 -2L275 1L273 5L275 2L277 -2L278 -7L278 -11L277 -16L275 -20L273 -23M2 -21L12 -21L15 -20L17 -18L18 -16L19 -13L19 -8L18 -5L17 -3L15 -1L12 0L2 0M5 -21L5 0M6 -21L6 0M12 -21L14 -20L16 -18L17 -16L18 -13L18 -8L17 -5L16 -3L14 -1L12 0M55 -21L55 -4L56 -1L58 0L60 0L62 -1L63 -3M56 -21L56 -4L57 -1L58 0M246 -21L253 -21M249 -21L249 -6L250 -3L252 -1L255 0L253 -1L251 -3L250 -6L250 -21M260 -21L266 -21M263 -21L263 -6L262 -3L260 -1L257 0L255 0M234 -18L240 0M24 -14L28 -14L28 0M27 -14L27 0M52 -14L60 -14M87 -14L91 -14L91 0M90 -14L90 0M98 -14L101 -13L102 -11L102 0M98 -14L100 -13L101 -11L101 0M98 -14L96 -14L93 -13L91 -11M116 -14L113 -13L111 -11L110 -8L110 -6L111 -3L113 -1L116 0L114 -1L112 -3L111 -6L111 -8L112 -11L114 -13L116 -14L119 -14L121 -13L123 -11L123 -10L122 -9L121 -10L122 -11M135 -14L132 -13L130 -11L129 -8L129 -6L130 -3L132 -1L135 0L133 -1L131 -3L130 -6L130 -8L142 -8L142 -10L141 -12L140 -13L138 -14L135 -14L133 -13L131 -11L130 -8M177 -14L181 -14L181 0M180 -14L180 0M188 -14L192 -14L192 0M191 -14L191 0M199 -14L202 -13L203 -11L203 0M199 -14L201 -13L202 -11L202 0M199 -14L197 -14L194 -13L192 -11M140 -13L141 -11L141 -8M46 -12L47 -14L47 -10L46 -12L45 -13L43 -14L39 -14L37 -13L36 -12L36 -10L37 -9L39 -8L44 -6L46 -5L47 -4M70 -12L70 -11L69 -11L69 -12L70 -13L72 -14L76 -14L78 -13L79 -12L79 -3L77 -1L75 0L72 0L69 -1L68 -3L68 -5L69 -7L72 -8L78 -9L79 -10M79 -12L80 -10L80 -3L81 -1L82 0L80 -1L79 -3M36 -11L37 -10L39 -9L44 -7L46 -6L47 -5L47 -2L46 -1L44 0L40 0L38 -1L37 -2L36 -4L36 0L37 -2M72 -8L70 -7L69 -5L69 -3L70 -1L72 0M229 -6L238 -6M123 -3L121 -1L118 0L116 0M142 -3L140 -1L137 0L135 0M24 0L31 0M82 0L83 0M87 0L94 0M98 0L105 0M177 0L184 0M188 0L195 0M199 0L206 0M225 0L231 0M227 0L234 -21L241 0M237 0L243 0M170 5L172 7M273 5L271 7M27 -21L26 -20L27 -19L28 -20L27 -21M180 -21L179 -20L180 -19L181 -20L180 -21" transform="translate(325.60 820.75) scale(0.8905 0.875)" fill="none" stroke="#000" stroke-width="1.55" vector-effect="non-scaling-stroke" stroke-linejoin="round"/>
<path d="M207 -25L205 -23L203 -19L202 -16L201 -11L201 -7L202 -2L203 1L205 5L203 2L201 -2L200 -7L200 -11L201 -16L203 -20L205 -23M496 -25L498 -23L500 -19L501 -16L502 -11L502 -7L501 -2L500 1L498 5L500 2L502 -2L503 -7L503 -11L502 -16L500 -20L498 -23M3 -21L2 -15L2 -21L17 -21L17 -15L16 -21M9 -21L9 0M10 -21L10 0M44 -21L44 -4L45 -1L47 0L49 0L51 -1L52 -3M45 -21L45 -4L46 -1L47 0M76 -21L80 -21L80 0M79 -21L79 0M103 -21L107 -21L113 -3M120 -21L113 0L106 -21L106 0M120 -21L120 0M120 -21L124 -21M121 -21L121 0M261 -21L277 -21L277 -15L276 -21M264 -21L264 0M265 -21L265 0M322 -21L322 -4L323 -1L325 0L327 0L329 -1L330 -3M323 -21L323 -4L324 -1L325 0M334 -21L338 -21L338 0M337 -21L337 0M271 -15L271 -7M28 -14L25 -13L23 -11L22 -8L22 -6L23 -3L25 -1L28 0L26 -1L24 -3L23 -6L23 -8L24 -11L26 -13L28 -14L30 -14L33 -13L35 -11L36 -8L36 -6L35 -3L33 -1L30 0L32 -1L34 -3L35 -6L35 -8L34 -11L32 -13L30 -14M41 -14L49 -14M212 -14L216 -14L216 0M215 -14L215 0M223 -14L227 -14L227 0M226 -14L226 0M234 -14L237 -13L238 -11L238 0M234 -14L236 -13L237 -11L237 0M234 -14L232 -14L229 -13L227 -11M302 -14L306 -14L306 0M305 -14L305 0M319 -14L327 -14M345 -14L348 -13L349 -11L349 0M345 -14L347 -13L348 -11L348 0M345 -14L343 -14L340 -13L338 -11M372 -14L376 -14L376 0M375 -14L375 0M383 -14L386 -13L387 -11L387 0M383 -14L385 -13L386 -11L386 0M383 -14L381 -14L378 -13L376 -11M394 -14L397 -13L398 -11L398 0M394 -14L396 -13L397 -11L397 0M394 -14L392 -14L389 -13L387 -11M466 -14L463 -13L461 -11L460 -8L460 -6L461 -3L463 -1L466 0L464 -1L462 -3L461 -6L461 -8L473 -8L473 -10L472 -12L471 -13L469 -14L466 -14L464 -13L462 -11L461 -8M314 -13L313 -12L314 -11L315 -12L315 -13L314 -14L311 -14L309 -13L307 -11L306 -8M471 -13L472 -11L472 -8M59 -12L59 -11L58 -11L58 -12L59 -13L61 -14L65 -14L67 -13L68 -12L68 -3L66 -1L64 0L61 0L58 -1L57 -3L57 -5L58 -7L61 -8L67 -9L68 -10M68 -12L69 -10L69 -3L70 -1L71 0L69 -1L68 -3M131 -12L131 -11L130 -11L130 -12L131 -13L133 -14L137 -14L139 -13L140 -12L140 -3L138 -1L136 0L133 0L130 -1L129 -3L129 -5L130 -7L133 -8L139 -9L140 -10M140 -12L141 -10L141 -3L142 -1L143 0L141 -1L140 -3M159 -12L160 -14L160 -10L159 -12L158 -13L156 -14L152 -14L150 -13L149 -12L149 -10L150 -9L152 -8L157 -6L159 -5L160 -4M176 -12L177 -14L177 -10L176 -12L175 -13L173 -14L169 -14L167 -13L166 -12L166 -10L167 -9L169 -8L174 -6L176 -5L177 -4M285 -12L285 -11L284 -11L284 -12L285 -13L287 -14L291 -14L293 -13L294 -12L294 -3L292 -1L290 0L287 0L284 -1L283 -3L283 -5L284 -7L287 -8L293 -9L294 -10M294 -12L295 -10L295 -3L296 -1L297 0L295 -1L294 -3M408 -12L408 -11L407 -11L407 -12L408 -13L410 -14L414 -14L416 -13L417 -12L417 -3L415 -1L413 0L410 0L407 -1L406 -3L406 -5L407 -7L410 -8L416 -9L417 -10M417 -12L418 -10L418 -3L419 -1L420 0L418 -1L417 -3M436 -12L437 -14L437 -10L436 -12L435 -13L433 -14L429 -14L427 -13L426 -12L426 -10L427 -9L429 -8L434 -6L436 -5L437 -4M453 -12L454 -14L454 -10L453 -12L452 -13L450 -14L446 -14L444 -13L443 -12L443 -10L444 -9L446 -8L451 -6L453 -5L454 -4M489 -12L490 -14L490 -10L489 -12L488 -13L486 -14L482 -14L480 -13L479 -12L479 -10L480 -9L482 -8L487 -6L489 -5L490 -4M149 -11L150 -10L152 -9L157 -7L159 -6L160 -5L160 -2L159 -1L157 0L153 0L151 -1L150 -2L149 -4L149 0L150 -2M166 -11L167 -10L169 -9L174 -7L176 -6L177 -5L177 -2L176 -1L174 0L170 0L168 -1L167 -2L166 -4L166 0L167 -2M265 -11L271 -11M426 -11L427 -10L429 -9L434 -7L436 -6L437 -5L437 -2L436 -1L434 0L430 0L428 -1L427 -2L426 -4L426 0L427 -2M443 -11L444 -10L446 -9L451 -7L453 -6L454 -5L454 -2L453 -1L451 0L447 0L445 -1L444 -2L443 -4L443 0L444 -2M479 -11L480 -10L482 -9L487 -7L489 -6L490 -5L490 -2L489 -1L487 0L483 0L481 -1L480 -2L479 -4L479 0L480 -2M61 -8L59 -7L58 -5L58 -3L59 -1L61 0M133 -8L131 -7L130 -5L130 -3L131 -1L133 0M287 -8L285 -7L284 -5L284 -3L285 -1L287 0M410 -8L408 -7L407 -5L407 -3L408 -1L410 0M473 -3L471 -1L468 0L466 0M6 0L13 0M28 0L30 0M71 0L72 0M76 0L83 0M103 0L109 0M117 0L124 0M143 0L144 0M212 0L219 0M223 0L230 0M234 0L241 0M261 0L277 0L277 -6L276 0M297 0L298 0M302 0L309 0M334 0L341 0M345 0L352 0M372 0L379 0M383 0L390 0M394 0L401 0M420 0L421 0M205 5L207 7M498 5L496 7M215 -21L214 -20L215 -19L216 -20L215 -21" transform="translate(26.35 625.90) rotate(-90) scale(0.893 0.88)" fill="none" stroke="#000" stroke-width="1.55" vector-effect="non-scaling-stroke" stroke-linejoin="round"/>
<g transform="translate(0 0.00)" fill="none" stroke="#000"><path d="M147.2 301.2C146.3 298 144.9 296.3 142.2 296.3C138.8 296.3 136.2 299.4 136.2 302.9C136.2 305.6 137.9 307.3 140.5 307.3C143.6 307.3 145.9 304.4 147.2 301.2Z" stroke-width="4.7" stroke-linejoin="round"/><path d="M150.9 295.6C149.8 298.3 148.4 300.6 146.6 303.2M146.2 299.5C147 303 148 307.9 151.2 307.6" stroke-width="3.5"/><path d="M156.9 297.65H173.8M156.9 303.1H173.8" stroke-width="3.3"/></g>
<path d="M42 -21L38 -21L35 -20L34 -19L33 -17L33 -16L34 -15L35 -16L34 -17M42 -21L45 -20L46 -18L46 -15L45 -13L42 -12L39 -12M42 -21L44 -20L45 -18L45 -15L44 -13L42 -12L44 -11L46 -9L47 -7L47 -4L46 -2L45 -1L42 0L38 0L35 -1L34 -2L33 -4L33 -5L34 -6L35 -5L34 -4M10 -20L10 0M6 -17L8 -18L11 -21L11 0M45 -10L46 -7L46 -4L45 -2L44 -1L42 0M6 0L15 0M25 -2L24 -1L25 0L26 -1L25 -2" transform="translate(190.90 308.10) scale(0.89 0.89)" fill="none" stroke="#000" stroke-width="3.3" vector-effect="non-scaling-stroke" stroke-linejoin="round"/>
<g transform="translate(0 49.80)" fill="none" stroke="#000"><path d="M147.2 301.2C146.3 298 144.9 296.3 142.2 296.3C138.8 296.3 136.2 299.4 136.2 302.9C136.2 305.6 137.9 307.3 140.5 307.3C143.6 307.3 145.9 304.4 147.2 301.2Z" stroke-width="4.7" stroke-linejoin="round"/><path d="M150.9 295.6C149.8 298.3 148.4 300.6 146.6 303.2M146.2 299.5C147 303 148 307.9 151.2 307.6" stroke-width="3.5"/><path d="M156.9 297.65H173.8M156.9 303.1H173.8" stroke-width="3.3"/></g>
<path d="M10 -20L10 0M35 -20L40 -20L45 -21L35 -21L33 -11L35 -13L38 -14L41 -14L44 -13L46 -11L47 -8L47 -6L46 -3L44 -1L41 0L38 0L35 -1L34 -2L33 -4L33 -5L34 -6L35 -5L34 -4M6 -17L8 -18L11 -21L11 0M41 -14L43 -13L45 -11L46 -8L46 -6L45 -3L43 -1L41 0M6 0L15 0M25 -2L24 -1L25 0L26 -1L25 -2" transform="translate(190.90 357.90) scale(0.89 0.89)" fill="none" stroke="#000" stroke-width="3.3" vector-effect="non-scaling-stroke" stroke-linejoin="round"/>
<g transform="translate(0 114.90)" fill="none" stroke="#000"><path d="M147.2 301.2C146.3 298 144.9 296.3 142.2 296.3C138.8 296.3 136.2 299.4 136.2 302.9C136.2 305.6 137.9 307.3 140.5 307.3C143.6 307.3 145.9 304.4 147.2 301.2Z" stroke-width="4.7" stroke-linejoin="round"/><path d="M150.9 295.6C149.8 298.3 148.4 300.6 146.6 303.2M146.2 299.5C147 303 148 307.9 151.2 307.6" stroke-width="3.5"/><path d="M156.9 297.65H173.8M156.9 303.1H173.8" stroke-width="3.3"/></g>
<path d="M40 -21L37 -20L35 -18L34 -16L33 -12L33 -6L34 -3L36 -1L39 0L37 -1L35 -3L34 -6L34 -12L35 -16L36 -18L38 -20L40 -21L43 -21L45 -20L46 -18L46 -17L45 -16L44 -17L45 -18M10 -20L10 0M6 -17L8 -18L11 -21L11 0M41 -13L44 -12L46 -10L47 -7L47 -6L46 -3L44 -1L41 0L43 -1L45 -3L46 -6L46 -7L45 -10L43 -12L41 -13L40 -13L37 -12L35 -10L34 -7M6 0L15 0M39 0L41 0M25 -2L24 -1L25 0L26 -1L25 -2" transform="translate(190.90 423.00) scale(0.89 0.89)" fill="none" stroke="#000" stroke-width="3.3" vector-effect="non-scaling-stroke" stroke-linejoin="round"/>
<g transform="translate(0 178.90)" fill="none" stroke="#000"><path d="M147.2 301.2C146.3 298 144.9 296.3 142.2 296.3C138.8 296.3 136.2 299.4 136.2 302.9C136.2 305.6 137.9 307.3 140.5 307.3C143.6 307.3 145.9 304.4 147.2 301.2Z" stroke-width="4.7" stroke-linejoin="round"/><path d="M150.9 295.6C149.8 298.3 148.4 300.6 146.6 303.2M146.2 299.5C147 303 148 307.9 151.2 307.6" stroke-width="3.5"/><path d="M156.9 297.65H173.8M156.9 303.1H173.8" stroke-width="3.3"/></g>
<path d="M38 -21L42 -21L45 -20L46 -18L46 -15L45 -13L42 -12L38 -12L35 -13L34 -15L34 -18L35 -20L38 -21L36 -20L35 -18L35 -15L36 -13L38 -12L35 -11L34 -10L33 -8L33 -4L34 -2L35 -1L38 0L42 0L45 -1L46 -2L47 -4L47 -8L46 -10L45 -11L42 -12L44 -13L45 -15L45 -18L44 -20L42 -21M10 -20L10 0M6 -17L8 -18L11 -21L11 0M38 -12L36 -11L35 -10L34 -8L34 -4L35 -2L36 -1L38 0M42 -12L44 -11L45 -10L46 -8L46 -4L45 -2L44 -1L42 0M6 0L15 0M25 -2L24 -1L25 0L26 -1L25 -2" transform="translate(190.90 487.00) scale(0.89 0.89)" fill="none" stroke="#000" stroke-width="3.3" vector-effect="non-scaling-stroke" stroke-linejoin="round"/>
<g transform="translate(0 348.10)" fill="none" stroke="#000"><path d="M147.2 301.2C146.3 298 144.9 296.3 142.2 296.3C138.8 296.3 136.2 299.4 136.2 302.9C136.2 305.6 137.9 307.3 140.5 307.3C143.6 307.3 145.9 304.4 147.2 301.2Z" stroke-width="4.7" stroke-linejoin="round"/><path d="M150.9 295.6C149.8 298.3 148.4 300.6 146.6 303.2M146.2 299.5C147 303 148 307.9 151.2 307.6" stroke-width="3.5"/><path d="M156.9 297.65H173.8M156.9 303.1H173.8" stroke-width="3.3"/></g>
<path d="M39 -21L36 -20L34 -18L33 -15L33 -14L34 -11L36 -9L39 -8L37 -9L35 -11L34 -14L34 -15L35 -18L37 -20L39 -21L41 -21L44 -20L46 -18L47 -15L47 -9L46 -5L45 -3L43 -1L40 0L37 0L35 -1L34 -3L34 -4L35 -5L36 -4L35 -3M41 -21L43 -20L45 -18L46 -15L46 -9L45 -5L44 -3L42 -1L40 0M10 -20L10 0M6 -17L8 -18L11 -21L11 0M46 -14L45 -11L43 -9L40 -8L39 -8M6 0L15 0M25 -2L24 -1L25 0L26 -1L25 -2" transform="translate(190.90 656.20) scale(0.89 0.89)" fill="none" stroke="#000" stroke-width="3.3" vector-effect="non-scaling-stroke" stroke-linejoin="round"/>
<g transform="translate(0 428.40)" fill="none" stroke="#000"><path d="M147.2 301.2C146.3 298 144.9 296.3 142.2 296.3C138.8 296.3 136.2 299.4 136.2 302.9C136.2 305.6 137.9 307.3 140.5 307.3C143.6 307.3 145.9 304.4 147.2 301.2Z" stroke-width="4.7" stroke-linejoin="round"/><path d="M150.9 295.6C149.8 298.3 148.4 300.6 146.6 303.2M146.2 299.5C147 303 148 307.9 151.2 307.6" stroke-width="3.5"/><path d="M156.9 297.65H173.8M156.9 303.1H173.8" stroke-width="3.3"/></g>
<path d="M12 -21L8 -21L5 -20L4 -19L3 -17L3 -16L4 -15L5 -16L4 -17M12 -21L15 -20L16 -19L17 -17L17 -15L16 -13L13 -11L8 -9M12 -21L14 -20L15 -19L16 -17L16 -15L15 -13L12 -11L6 -8L4 -6L3 -3L3 0M17 -5L17 -3L16 -1L15 0L11 0L6 -3L11 -1L14 -1L16 -2L17 -3M6 -3L4 -3L3 -2" transform="translate(190.90 736.50) scale(0.89 0.89)" fill="none" stroke="#000" stroke-width="3.3" vector-effect="non-scaling-stroke" stroke-linejoin="round"/>
<path d="M10 -20L10 0M6 -17L8 -18L11 -21L11 0M6 0L15 0" transform="translate(685.10 349.20) scale(0.92 0.92)" fill="none" stroke="#000" stroke-width="3.3" vector-effect="non-scaling-stroke" stroke-linejoin="round"/>
<path d="M2 -21L6 -21L12 -3M19 -21L12 0L5 -21L5 0M19 -21L19 0M19 -21L23 -21M20 -21L20 0M2 0L8 0M16 0L23 0" transform="translate(717.25 349.20) scale(0.885 0.92)" fill="none" stroke="#000" stroke-width="3.3" vector-effect="non-scaling-stroke" stroke-linejoin="round"/>
<path d="M10 -20L10 0M6 -17L8 -18L11 -21L11 0M6 0L15 0" transform="translate(685.10 529.00) scale(0.92 0.92)" fill="none" stroke="#f00" stroke-width="3.3" vector-effect="non-scaling-stroke" stroke-linejoin="round"/>
<path d="M2 -21L6 -21L12 -3M19 -21L12 0L5 -21L5 0M19 -21L19 0M19 -21L23 -21M20 -21L20 0M2 0L8 0M16 0L23 0" transform="translate(717.25 529.00) scale(0.885 0.92)" fill="none" stroke="#f00" stroke-width="3.3" vector-effect="non-scaling-stroke" stroke-linejoin="round"/>
<circle cx="747" cy="352" r="6.1" fill="none" stroke="#000" stroke-width="3"/>
<circle cx="747" cy="352" r="2" fill="none" stroke="#000" stroke-width="2.2"/>
<path d="M6 -21L13 -21M9 -21L9 -4L8 -1L7 0L9 -1L10 -4L10 -21M3 -4L4 -5L3 -6L2 -5L2 -3L3 -1L5 0L7 0" transform="translate(739.75 537.35) scale(0.58 0.58)" fill="none" stroke="#f00" stroke-width="3.3" vector-effect="non-scaling-stroke" stroke-linejoin="round"/>
</svg>
</body></html>
